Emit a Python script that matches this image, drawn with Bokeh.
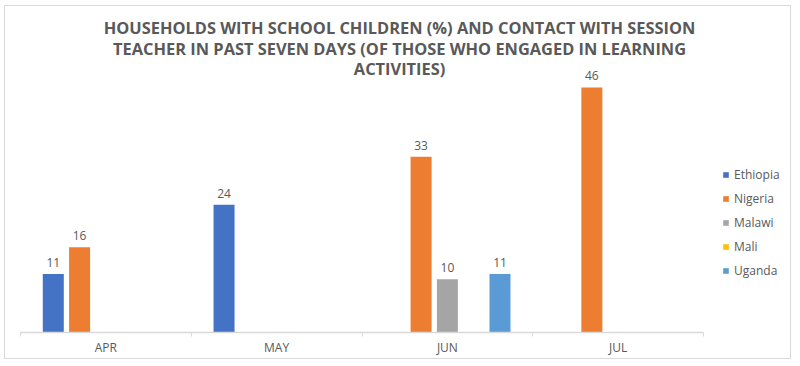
from bokeh.plotting import figure
from bokeh.models import (ColumnDataSource, Range1d, FixedTicker, Legend, LegendItem, Label)
from bokeh.core.properties import value
from bokeh.embed import file_html
from bokeh.resources import INLINE

months = ["APR", "MAY", "JUN", "JUL"]
series = ["Ethiopia", "Nigeria", "Malawi", "Mali", "Uganda"]
colors = ["#4472C4", "#ED7D31", "#A5A5A5", "#FFC000", "#5B9BD5"]
ethiopia = [11, 24, None, None]
nigeria = [16, None, 33, 46]
malawi = [None, None, 10, None]
mali = [None, None, None, None]
uganda = [None, None, 11, None]
values = [ethiopia, nigeria, malawi, mali, uganda]
title_lines = [
    "HOUSEHOLDS WITH SCHOOL CHILDREN (%) AND CONTACT WITH SESSION",
    "TEACHER IN PAST SEVEN DAYS (OF THOSE WHO ENGAGED IN LEARNING",
    "ACTIVITIES)",
]

GRAY = "#595959"
FONT = "Open Sans"
slot = 0.154
bar_w = 0.123
n = len(months)

p = figure(width=787, height=354, output_backend="svg", toolbar_location=None,
           x_range=Range1d(0, 4.521), y_range=Range1d(0, 61.2),
           min_border_left=15, min_border_right=0, min_border_top=0, min_border_bottom=28)
p.styles = {"border": "1px solid #d9d9d9", "margin-left": "4px",
            "position": "relative", "top": "5px"}
p.outline_line_color = None
p.xgrid.visible = False
p.ygrid.visible = False
p.yaxis.visible = False

xa = p.xaxis[0]
xa.bounds = (0, n)
xa.ticker = FixedTicker(ticks=[i + 0.5 for i in range(n)],
                        minor_ticks=list(range(n + 1)))
xa.major_label_overrides = {i + 0.5: m for i, m in enumerate(months)}
xa.major_tick_out = 0
xa.major_tick_in = 0
xa.minor_tick_out = 4
xa.minor_tick_in = 0
xa.minor_tick_line_color = "#d9d9d9"
xa.axis_line_color = "#d9d9d9"
xa.axis_line_width = 1.5
xa.major_label_text_font = FONT
xa.major_label_text_font_size = "12px"
xa.major_label_text_color = GRAY
xa.major_label_standoff = 2

items = []
for k, (name, col, vals) in enumerate(zip(series, colors, values)):
    xs, ys = [], []
    for i, v in enumerate(vals):
        if v is not None:
            xs.append(i + 0.5 + (k - 2) * slot)
            ys.append(v)
    lab_src = ColumnDataSource(dict(x=xs, top=ys, lab=[str(v) for v in ys]))
    bar_src = ColumnDataSource(dict(x=xs or [float("nan")], top=ys or [float("nan")]))
    r = p.vbar(x="x", top="top", width=bar_w, source=bar_src, fill_color=col, line_color=None)
    p.text(x="x", y="top", text="lab", source=lab_src, text_align="center", text_baseline="bottom",
           y_offset=-7, text_font=value(FONT), text_font_size="12px", text_color=GRAY)
    items.append(LegendItem(label=name, renderers=[r]))

legend = Legend(items=items, location=(702, 53), padding=0, margin=0, spacing=7,
                glyph_width=7, glyph_height=7, label_height=12, label_standoff=5,
                label_text_font=FONT, label_text_font_size="12px", label_text_color=GRAY,
                border_line_color=None, background_fill_alpha=0)
p.add_layout(legend, "center")

for j, (t, y) in enumerate(zip(title_lines, [57.3, 53.4, 49.5])):
    p.add_layout(Label(x=2.22, y=y, text=t, text_align="center", text_baseline="middle",
                       text_font=FONT, text_font_size="16.4px", text_font_style="bold",
                       text_color=GRAY))

open("out.html", "w").write(file_html(p, INLINE))
